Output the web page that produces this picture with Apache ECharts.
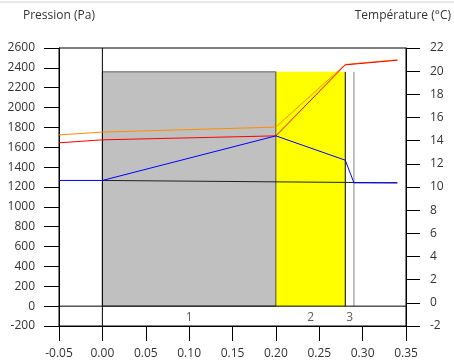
<!DOCTYPE html>
<html><head><meta charset="utf-8">
<script src="https://cdn.jsdelivr.net/npm/echarts@6/dist/echarts.min.js"></script>
<style>html,body{margin:0;padding:0;background:#fff}#c{width:454px;height:364px}</style>
</head><body><div id="c"></div>
<script>
// Data
const xTicks = [-0.05, 0.35, 0.05];
const leftTicks = [-200, 2600, 200];
const rightTicks = [-2, 22, 2];
// Temperature (°C) — right axis
const tempX = [-0.05, 0, 0.2, 0.28, 0.34];
const tempY = [14.5, 14.74, 15.17, 20.58, 20.98];
// Saturation pressure (Pa)
const satX = [-0.05, 0, 0.2, 0.28, 0.34];
const satY = [1645, 1675, 1715, 2430, 2477];
// Vapour pressure (Pa)
const vapX = [-0.05, 0, 0.2, 0.28, 0.29, 0.34];
const vapY = [1266, 1266, 1715, 1470, 1242, 1242];
// Black straight line (Pa)
const lineX = [0, 0.34];
const lineY = [1266, 1242];
// Layers
const layerNames = ['1', '2', '3'];
const layerStart = [0, 0.2, 0.28];
const layerEnd = [0.2, 0.28, 0.29];
const layerLabelX = [0.1, 0.24, 0.285];
const layerTop = 2360;
const labelY = -115;

const zip = (xs, ys) => xs.map((x, i) => [x, ys[i]]);
const font = '"Open Sans", sans-serif';

const chart = echarts.init(document.getElementById('c'));
chart.setOption({
  animation: false,
  backgroundColor: '#fff',
  grid: { left: 59, right: 48, top: 48, bottom: 38, show: true, borderColor: '#000', borderWidth: 1, backgroundColor: 'transparent' },
  graphic: [
    { type: 'line', shape: { x1: 0, y1: 2, x2: 454, y2: 2 }, style: { stroke: '#d0d0d0', lineWidth: 1 } },
    { type: 'text', left: 23, top: 10, style: { text: 'Pression (Pa)', font: '12px ' + font, fill: '#333' } },
    { type: 'text', right: 3, top: 10, style: { text: 'Température (°C)', font: '12px ' + font, fill: '#333' } }
  ],
  xAxis: {
    type: 'value', min: xTicks[0], max: xTicks[1], interval: xTicks[2],
    axisLine: { show: true, onZero: false, lineStyle: { color: '#000' } },
    axisTick: { show: true, inside: false, length: 15, lineStyle: { color: '#000' } },
    splitLine: { show: false },
    axisLabel: { formatter: v => v.toFixed(2), color: '#333', fontFamily: font, fontSize: 12, margin: 22 }
  },
  yAxis: [
    { type: 'value', min: leftTicks[0], max: leftTicks[1], interval: leftTicks[2],
      axisLine: { show: true, onZero: false, lineStyle: { color: '#000' } },
      axisTick: { show: true, inside: false, length: 15, lineStyle: { color: '#000' } },
      splitLine: { show: false },
      axisLabel: { formatter: v => String(v), color: '#333', fontFamily: font, fontSize: 12, margin: 24 } },
    { type: 'value', min: rightTicks[0], max: rightTicks[1], interval: rightTicks[2], position: 'right',
      axisLine: { show: true, onZero: false, lineStyle: { color: '#000' } },
      axisTick: { show: true, inside: false, length: 14, lineStyle: { color: '#000' } },
      splitLine: { show: false },
      axisLabel: { formatter: v => String(v), color: '#333', fontFamily: font, fontSize: 12, margin: 24 } }
  ],
  series: [
    { type: 'line', data: [], markArea: { silent: true, data: [
        [{ xAxis: layerStart[0], yAxis: 0, itemStyle: { color: '#c0c0c0', borderColor: '#606060', borderWidth: 1 } }, { xAxis: layerEnd[0], yAxis: layerTop }],
        [{ xAxis: layerStart[1], yAxis: 0, itemStyle: { color: '#ffff00', borderWidth: 0 } }, { xAxis: layerEnd[1], yAxis: layerTop }]
      ] } },
    { type: 'line', data: zip([layerStart[1], layerStart[1]], [0, layerTop]), symbol: 'none', lineStyle: { color: '#606060', width: 1 } },
    { type: 'line', data: zip([layerStart[2], layerStart[2]], [0, layerTop]), symbol: 'none', lineStyle: { color: '#000', width: 1 } },
    { type: 'line', data: zip([layerEnd[2], layerEnd[2]], [0, layerTop]), symbol: 'none', lineStyle: { color: '#808080', width: 1 } },
    { type: 'line', data: zip([0, 0], [leftTicks[0], leftTicks[1]]), symbol: 'none', lineStyle: { color: '#000', width: 1 } },
    { type: 'line', data: zip([xTicks[0], xTicks[1]], [0, 0]), symbol: 'none', lineStyle: { color: '#000', width: 1 } },
    { type: 'line', data: zip(lineX, lineY), symbol: 'none', lineStyle: { color: '#202020', width: 1 } },
    { type: 'line', yAxisIndex: 1, data: zip(tempX, tempY), symbol: 'none', lineStyle: { color: '#ff8c00', width: 1 } },
    { type: 'line', data: zip(satX, satY), symbol: 'none', lineStyle: { color: '#ff0000', width: 1 } },
    { type: 'line', data: zip(vapX, vapY), symbol: 'none', lineStyle: { color: '#0000ff', width: 1 } },
    { type: 'scatter', symbolSize: 0, data: layerLabelX.map((x, i) => ({ value: [x, labelY], name: layerNames[i] })),
      label: { show: true, position: 'inside', formatter: p => p.name, color: '#333', fontFamily: font, fontSize: 12 } }
  ]
});
</script></body></html>
